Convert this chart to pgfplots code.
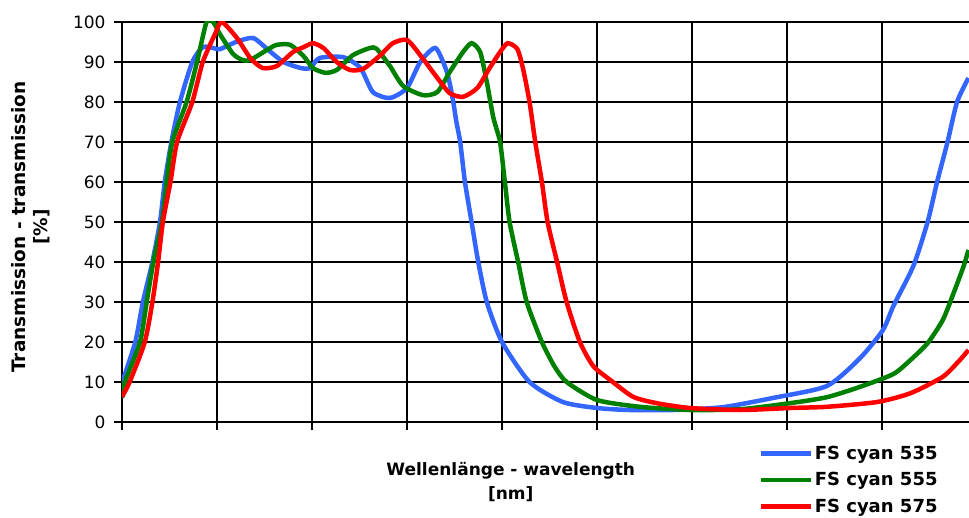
\documentclass[border=0pt]{standalone}
\usepackage{pgfplots}
\pgfplotsset{compat=1.18}
\usepackage{fontspec}
\setmainfont{DejaVu Sans}

\definecolor{cblue}{RGB}{51,102,255}
\definecolor{cgreen}{RGB}{0,128,0}
\definecolor{cred}{RGB}{255,0,0}

\begin{document}
\begin{tikzpicture}[x=1pt,y=1pt]
\useasboundingbox (0,0) rectangle (969,517);
\begin{axis}[
    at={(122pt,95pt)}, anchor=south west,
    width=847pt, height=400pt, scale only axis,
    xmin=0, xmax=8.916, ymin=0, ymax=100,
    axis x line*=bottom, axis y line*=left,
    axis line style={-, line width=1.6pt, black},
    grid=major,
    major grid style={line width=1.6pt, black},
    xtick={0,1,2,3,4,5,6,7,8},
    xticklabels={},
    ytick={0,10,20,30,40,50,60,70,80,90,100},
    tick align=outside,
    major tick length=8pt,
    every tick/.style={black, line width=1.6pt},
    /pgf/number format/assume math mode=true,
    yticklabel style={font=\fontsize{17}{17}\selectfont, xshift=-5pt},
    ylabel={Transmission - transmission\\{[\%]}},
    ylabel style={at={(axis description cs:-0.1074,0.4875)}, anchor=center,
        align=center, font=\bfseries\fontsize{18.5}{22}\selectfont},
    xlabel={Wellenlänge - wavelength\\{[nm]}},
    xlabel style={at={(axis description cs:0.459,-0.092)}, anchor=north,
        align=center, font=\bfseries\fontsize{17}{24}\selectfont},
    legend style={at={(axis description cs:0.751,-0.055)}, anchor=north west,
        draw=none, fill=none, font=\bfseries\fontsize{18}{18}\selectfont,
        row sep=7.5pt, inner sep=0pt},
    legend cell align=left,
    legend image code/.code={\draw[#1] (0pt,0pt) -- (50pt,0pt);},
    every axis plot/.append style={line width=4.5pt, smooth, tension=0.4},
]
\addplot[cblue] coordinates {
(0.00,9.8) (0.14,20) (0.22,30) (0.32,40) (0.40,50) (0.45,60) (0.52,70)
(0.61,80) (0.74,90) (0.85,93.7) (0.96,93.5) (1.03,93.2) (1.20,95) (1.38,96)
(1.54,93) (1.70,90) (1.88,88.5) (1.98,88.5) (2.08,91) (2.33,91.2) (2.51,88.5)
(2.64,82.5) (2.82,81) (3.00,83.5) (3.14,90) (3.30,93.5) (3.42,87.5) (3.48,81)
(3.52,75) (3.56,70) (3.61,60) (3.68,50) (3.75,40) (3.84,30) (4.00,20)
(4.29,10) (4.64,5) (5.00,3.5) (5.34,3) (5.80,3) (6.32,3.7) (6.85,6)
(7.42,9) (7.77,16) (8.01,23) (8.12,29) (8.33,39) (8.48,50) (8.58,60)
(8.69,70) (8.79,80) (8.91,86)
};
\addlegendentry{FS cyan 535}
\addplot[cgreen] coordinates {
(0.00,6) (0.03,10) (0.19,20) (0.26,30) (0.33,40) (0.42,50) (0.47,60)
(0.53,70) (0.68,80) (0.79,90) (0.89,100) (0.96,100) (1.03,97) (1.17,92)
(1.27,90.5) (1.35,90.5) (1.56,93.5) (1.63,94.3) (1.77,94.3) (1.91,91.5)
(2.01,88.5) (2.14,87.3) (2.26,88) (2.43,91.7) (2.61,93.5) (2.68,93.3)
(2.82,89) (2.96,84) (3.17,81.7) (3.32,82.5) (3.45,87.5) (3.59,92.5)
(3.68,94.7) (3.77,92.5) (3.84,85) (3.91,76) (3.98,70) (4.03,60) (4.08,50)
(4.17,40) (4.26,30) (4.42,20) (4.55,14) (4.68,10) (5.00,5.5) (5.45,3.8)
(5.98,3) (6.51,3.2) (7.03,4.7) (7.42,6.2) (7.77,8.8) (8.12,12) (8.30,15.5)
(8.48,19.7) (8.64,25.5) (8.75,32) (8.86,39) (8.91,43)
};
\addlegendentry{FS cyan 555}
\addplot[cred] coordinates {
(0.00,6.3) (0.08,10) (0.24,20) (0.32,30) (0.38,40) (0.43,50)
(0.51,60) (0.58,70) (0.74,80) (0.85,90) (0.98,97) (1.05,100) (1.21,96)
(1.35,91) (1.48,88.5) (1.63,89) (1.80,92.5) (1.91,93.7) (2.01,94.7)
(2.12,93.5) (2.26,90) (2.40,88) (2.54,88.3) (2.72,91.7) (2.85,94.7)
(3.00,95.5) (3.14,91.7) (3.32,86) (3.45,82.2) (3.59,81.3) (3.74,83.5)
(3.87,88.5) (3.98,92.5) (4.06,94.7) (4.16,93.3) (4.22,88.5) (4.29,80)
(4.35,70) (4.42,60) (4.48,50) (4.58,40) (4.68,30) (4.82,20) (4.96,14)
(5.14,10.5) (5.38,6.3) (5.63,4.7) (5.98,3.5) (6.51,3) (7.03,3.5) (7.42,3.8)
(7.95,5) (8.30,7.2) (8.64,11.3) (8.82,15.5) (8.91,18)
};
\addlegendentry{FS cyan 575}
\end{axis}
\end{tikzpicture}
\end{document}
